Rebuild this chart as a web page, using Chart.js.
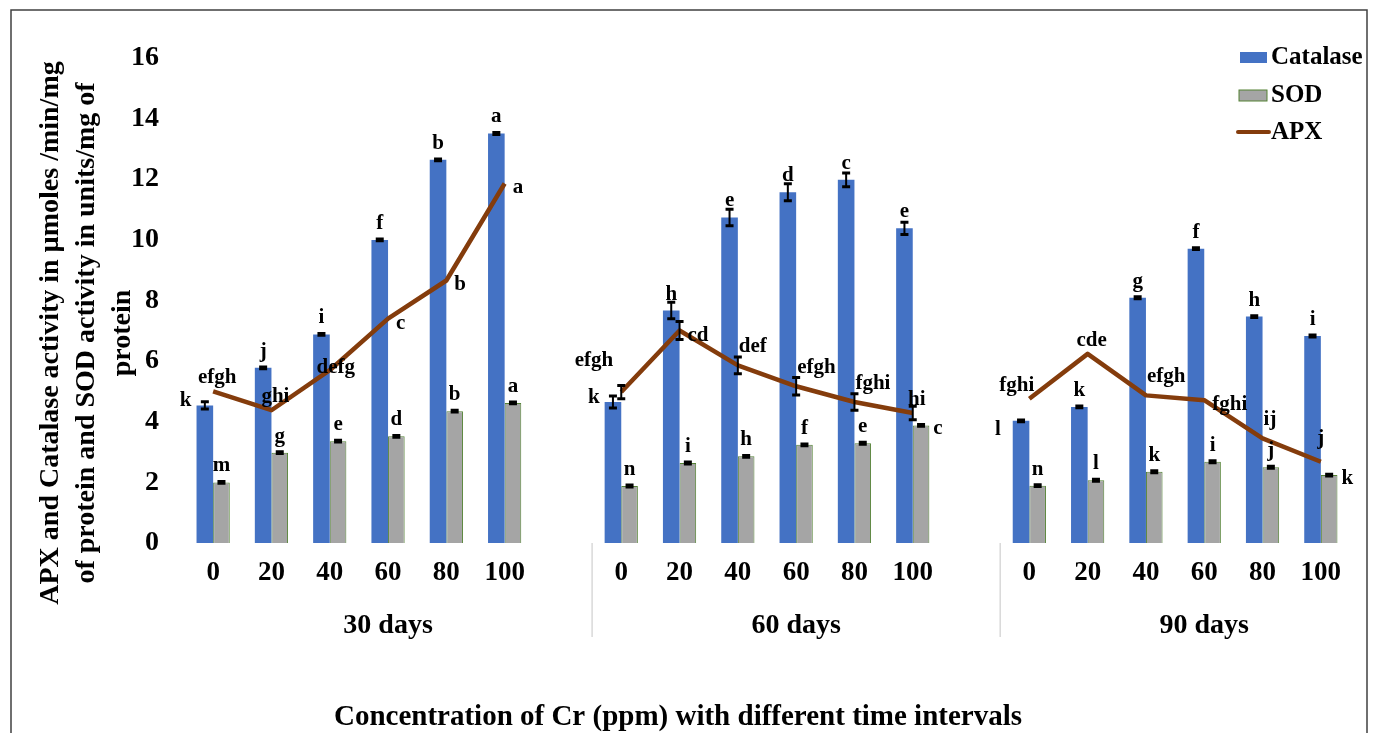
<!DOCTYPE html>
<html lang="en">
<head>
    <meta charset="UTF-8">
    <title>Catalase, SOD and APX activity under Cr stress</title>
    <script src="https://cdn.jsdelivr.net/npm/chart.js"></script>
    <style>
        body { margin: 0; background: #fff; }
        #wrap { width: 1381px; height: 733px; }
    </style>
</head>
<body>
<div id="wrap"><canvas id="enzymeChart" width="1381" height="733"></canvas></div>
<script>
    // Cr doses (ppm) and sampling periods
    const doses = ['0', '20', '40', '60', '80', '100'];
    const periods = ['30 days', '60 days', '90 days'];

    // values listed period by period: 30 days, 60 days, 90 days
    const catalase = [
        4.54, 5.78, 6.88, 10.00, 12.64, 13.51,
        4.65, 7.67, 10.74, 11.57, 11.98, 10.38,
        4.03, 4.49, 8.09, 9.71, 7.47, 6.83
    ];
    const catalaseErr = [
        0.12, 0.03, 0.03, 0.03, 0.03, 0.03,
        0.20, 0.27, 0.27, 0.28, 0.23, 0.20,
        0.03, 0.03, 0.03, 0.03, 0.03, 0.03
    ];
    const sod = [
        2.00, 2.98, 3.36, 3.52, 4.35, 4.62,
        1.88, 2.64, 2.86, 3.24, 3.29, 3.88,
        1.89, 2.07, 2.35, 2.68, 2.50, 2.24
    ];
    const sodErr = [
        0.03, 0.03, 0.03, 0.03, 0.03, 0.03,
        0.03, 0.03, 0.03, 0.03, 0.03, 0.03,
        0.03, 0.03, 0.03, 0.03, 0.03, 0.03
    ];
    const apx = [
        5.00, 4.38, 5.70, 7.40, 8.66, 11.86,
        4.98, 7.01, 5.86, 5.17, 4.65, 4.29,
        4.76, 6.24, 4.87, 4.71, 3.45, 2.68
    ];
    const apxErr = [
        0, 0, 0, 0, 0, 0,
        0.22, 0.30, 0.28, 0.29, 0.27, 0.22,
        0, 0, 0, 0, 0, 0
    ];

    // significance letters
    const catalaseLetters = ['k', 'j', 'i', 'f', 'b', 'a', 'k', 'h', 'e', 'd', 'c', 'e', 'l', 'k', 'g', 'f', 'h', 'i'];
    const sodLetters = ['m', 'g', 'e', 'd', 'b', 'a', 'n', 'i', 'h', 'f', 'e', 'c', 'n', 'l', 'k', 'i', 'j', 'k'];
    const apxLetters = ['efgh', 'ghi', 'defg', 'c', 'b', 'a', 'efgh', 'cd', 'def', 'efgh', 'fghi', 'hi',
                        'fghi', 'cde', 'efgh', 'fghi', 'ij', 'j'];

    // where each letter sits relative to its mark
    const catalaseAnchor = ['left', 'above', 'above', 'above', 'above', 'above',
                            'left', 'above', 'above', 'above', 'above', 'above',
                            'lowLeft', 'above', 'above', 'above', 'above', 'above'];
    const sodAnchor = ['above', 'above', 'above', 'above', 'above', 'above',
                       'above', 'above', 'above', 'above', 'above', 'right',
                       'above', 'above', 'above', 'above', 'above', 'right'];
    const apxAnchor = ['over', 'over', 'on', 'right', 'right', 'right',
                       'aboveLeft', 'right', 'aboveRight', 'aboveRight', 'aboveRight', 'over',
                       'overLeft', 'over', 'aboveRight', 'right', 'aboveRight', 'above'];

    // one empty slot between the periods
    function spread(arr, blank) {
        const out = [];
        periods.forEach((p, g) => {
            if (g > 0) out.push(blank);
            for (let i = 0; i < doses.length; i++) out.push(arr[g * doses.length + i]);
        });
        return out;
    }

    const labels = spread(periods.flatMap(() => doses), '');
    const SERIF = "'Liberation Serif', 'Times New Roman', serif";

    const anchorPos = (a, el, isBar) => {
        const hw = isBar ? el.width / 2 : 0;
        switch (a) {
            case 'left': return [el.x - hw - 5, el.y + 1, 'right'];
            case 'lowLeft': return [el.x - hw - 12, el.y + 14, 'right'];
            case 'right': return isBar ? [el.x + hw + 4, el.y + 9, 'left'] : [el.x + 8, el.y + 10, 'left'];
            case 'over': return [el.x + 4, el.y - 8, 'center'];
            case 'on': return [el.x + 6, el.y + 3, 'center'];
            case 'aboveLeft': return [el.x - 8, el.y - 26, 'right'];
            case 'overLeft': return [el.x + 5, el.y - 8, 'right'];
            case 'aboveRight': return [el.x + 1, el.y - 13, 'left'];
            default: return [el.x, el.y - (isBar ? 11 : 18), 'center'];
        }
    };

    const extras = {
        id: 'extras',
        afterDatasetsDraw(chart) {
            const ctx = chart.ctx;
            const y = chart.scales.y;
            chart.data.datasets.forEach((ds, di) => {
                const meta = chart.getDatasetMeta(di);
                const isBar = ds.type !== 'line';
                meta.data.forEach((el, i) => {
                    const v = ds.data[i];
                    if (v == null) return;
                    // error bar
                    const e = ds.errors[i];
                    if (e) {
                        const t = y.getPixelForValue(v + e), b = y.getPixelForValue(v - e);
                        ctx.save();
                        ctx.strokeStyle = '#000';
                        ctx.lineWidth = 2;
                        ctx.beginPath();
                        ctx.moveTo(el.x, t); ctx.lineTo(el.x, b);
                        ctx.stroke();
                        ctx.lineWidth = 3;
                        ctx.beginPath();
                        ctx.moveTo(el.x - 4, t); ctx.lineTo(el.x + 4, t);
                        ctx.moveTo(el.x - 4, b); ctx.lineTo(el.x + 4, b);
                        ctx.stroke();
                        ctx.restore();
                    }
                    // letter
                    const [lx, ly, align] = anchorPos(ds.anchors[i], el, isBar);
                    ctx.save();
                    ctx.font = 'bold 21px ' + SERIF;
                    ctx.fillStyle = '#000';
                    ctx.textAlign = align;
                    ctx.textBaseline = 'alphabetic';
                    ctx.fillText(ds.letters[i], lx, ly);
                    ctx.restore();
                });
            });
        },
        afterDraw(chart) {
            const ctx = chart.ctx;
            const x = chart.scales.x;
            const area = chart.chartArea;
            ctx.save();

            // separators between periods
            ctx.strokeStyle = '#d9d9d9';
            ctx.lineWidth = 1.5;
            [6, 13].forEach(i => {
                const sx = (x.getPixelForValue(i) + x.getPixelForValue(i + 1)) / 2;
                ctx.beginPath();
                ctx.moveTo(sx, area.bottom);
                ctx.lineTo(sx, 637);
                ctx.stroke();
            });

            // period labels
            ctx.fillStyle = '#000';
            ctx.textAlign = 'center';
            ctx.textBaseline = 'alphabetic';
            ctx.font = 'bold 28px ' + SERIF;
            periods.forEach((p, g) => ctx.fillText(p, x.getPixelForValue(g * 7 + 3), 633));

            // axis titles
            ctx.font = 'bold 29px ' + SERIF;
            ctx.fillText('Concentration of Cr (ppm) with different time intervals', 678, 725);

            ctx.font = 'bold 28px ' + SERIF;
            ctx.textBaseline = 'middle';
            const yTitle = ['APX and Catalase activity in µmoles /min/mg',
                            'of protein and SOD activity in units/mg of',
                            'protein'];
            yTitle.forEach((line, k) => {
                ctx.save();
                ctx.translate(51 + k * 36, 333);
                ctx.rotate(-Math.PI / 2);
                ctx.fillText(line, 0, 0);
                ctx.restore();
            });

            // legend
            ctx.textAlign = 'left';
            ctx.font = 'bold 25px ' + SERIF;
            ctx.fillStyle = '#4472C4';
            ctx.fillRect(1240, 52, 27, 11);
            ctx.fillStyle = '#A5A5A5';
            ctx.fillRect(1239, 90, 28, 11);
            ctx.strokeStyle = '#548235';
            ctx.lineWidth = 1;
            ctx.strokeRect(1239, 90, 28, 11);
            ctx.strokeStyle = '#843C0C';
            ctx.lineWidth = 4;
            ctx.lineCap = 'round';
            ctx.beginPath();
            ctx.moveTo(1238, 132); ctx.lineTo(1269, 132);
            ctx.stroke();
            ctx.fillStyle = '#000';
            ctx.fillText('Catalase', 1271, 58);
            ctx.fillText('SOD', 1271, 96);
            ctx.fillText('APX', 1271, 133);

            // outer frame
            ctx.strokeStyle = '#404040';
            ctx.lineWidth = 1.5;
            ctx.lineCap = 'butt';
            ctx.beginPath();
            ctx.moveTo(11, 745); ctx.lineTo(11, 10); ctx.lineTo(1367, 10); ctx.lineTo(1367, 745);
            ctx.stroke();
            ctx.restore();
        }
    };

    const ctx = document.getElementById('enzymeChart').getContext('2d');
    new Chart(ctx, {
        data: {
            labels: labels,
            datasets: [
                {
                    type: 'line',
                    label: 'APX',
                    data: spread(apx, null),
                    errors: spread(apxErr, 0),
                    letters: spread(apxLetters, ''),
                    anchors: spread(apxAnchor, ''),
                    borderColor: '#843C0C',
                    borderWidth: 4.5,
                    borderJoinStyle: 'round',
                    pointRadius: 0,
                    tension: 0,
                    spanGaps: false,
                    order: 0
                },
                {
                    type: 'bar',
                    label: 'Catalase',
                    data: spread(catalase, null),
                    errors: spread(catalaseErr, 0),
                    letters: spread(catalaseLetters, ''),
                    anchors: spread(catalaseAnchor, ''),
                    backgroundColor: '#4472C4',
                    borderWidth: 0,
                    order: 1
                },
                {
                    type: 'bar',
                    label: 'SOD',
                    data: spread(sod, null),
                    errors: spread(sodErr, 0),
                    letters: spread(sodLetters, ''),
                    anchors: spread(sodAnchor, ''),
                    backgroundColor: '#A5A5A5',
                    borderColor: '#548235',
                    borderWidth: 1,
                    order: 1
                }
            ]
        },
        options: {
            responsive: false,
            animation: false,
            layout: { padding: { top: 58, right: 31, left: 0, bottom: 0 } },
            datasets: { bar: { categoryPercentage: 0.57, barPercentage: 1.0 } },
            plugins: {
                legend: { display: false },
                tooltip: { enabled: false }
            },
            scales: {
                x: {
                    grid: { display: false, drawTicks: false },
                    border: { display: false },
                    ticks: {
                        autoSkip: false,
                        maxRotation: 0,
                        padding: 14,
                        color: '#000',
                        font: { family: SERIF, size: 27, weight: 'bold' }
                    },
                    afterFit: scale => { scale.height = 190; }
                },
                y: {
                    min: 0,
                    max: 16,
                    grid: { display: false, drawTicks: false },
                    border: { display: false },
                    ticks: {
                        stepSize: 2,
                        padding: 25,
                        color: '#000',
                        font: { family: SERIF, size: 28, weight: 'bold' }
                    },
                    afterFit: scale => { scale.width = 184; }
                }
            }
        },
        plugins: [extras]
    });
</script>
</body>
</html>
